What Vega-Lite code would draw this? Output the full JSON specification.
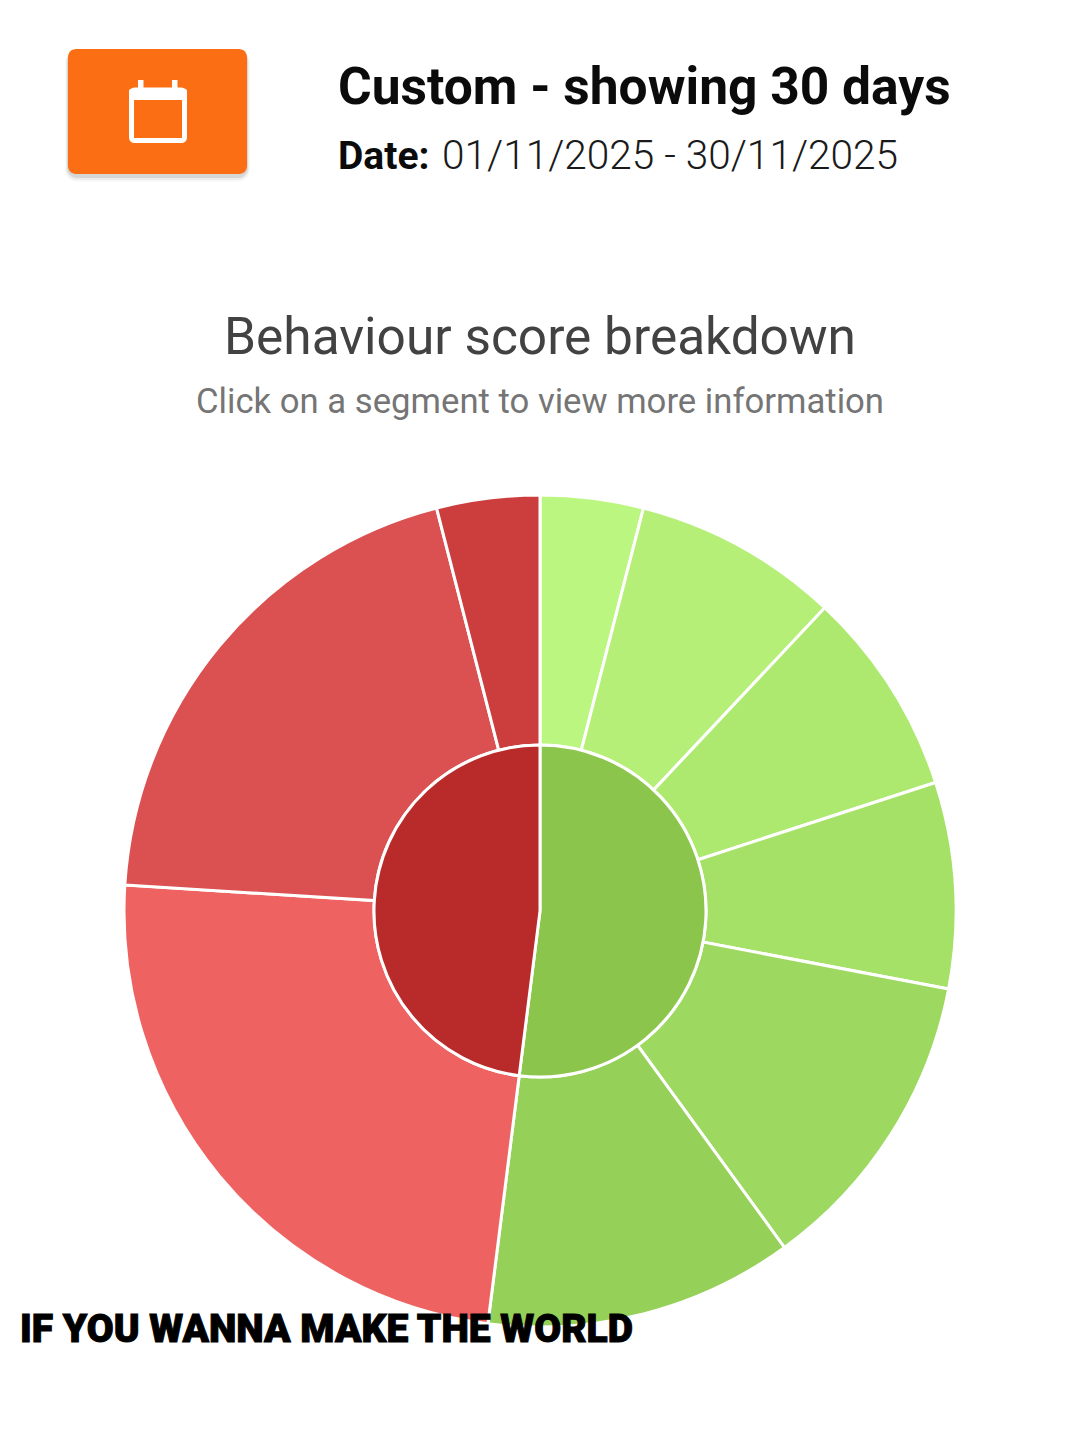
{
"$schema":"https://vega.github.io/schema/vega-lite/v6.json",
"width":830,"height":830,
"autosize":{"type":"none"},
"padding":{"left":125,"top":496,"right":125,"bottom":114},
"background":"#ffffff",
"config":{"view":{"stroke":null}},
"datasets":{"segments":[
{"ring":"inner","segment":"Positive","group":"Positive","count":26,"order":1},
{"ring":"inner","segment":"Negative","group":"Negative","count":24,"order":2},
{"ring":"outer","segment":"P1","group":"Positive","count":2,"order":1},
{"ring":"outer","segment":"P2","group":"Positive","count":4,"order":2},
{"ring":"outer","segment":"P3","group":"Positive","count":4,"order":3},
{"ring":"outer","segment":"P4","group":"Positive","count":4,"order":4},
{"ring":"outer","segment":"P5","group":"Positive","count":6,"order":5},
{"ring":"outer","segment":"P6","group":"Positive","count":6,"order":6},
{"ring":"outer","segment":"N1","group":"Negative","count":12,"order":7},
{"ring":"outer","segment":"N2","group":"Negative","count":10,"order":8},
{"ring":"outer","segment":"N3","group":"Negative","count":2,"order":9}
]},
"layer":[
{"data":{"values":[{"k":1}]},"mark":{"type":"rect","x":-60,"x2":125,"y":-445,"y2":-314,"cornerRadius":12,"color":"#000000","opacity":0.025},"encoding":{}},
{"data":{"values":[{"k":1}]},"mark":{"type":"rect","x":-59,"x2":124,"y":-445,"y2":-316,"cornerRadius":11,"color":"#000000","opacity":0.05},"encoding":{}},
{"data":{"values":[{"k":1}]},"mark":{"type":"rect","x":-58,"x2":123,"y":-445,"y2":-318,"cornerRadius":10,"color":"#000000","opacity":0.09},"encoding":{}},
{"data":{"values":[{"k":1}]},"mark":{"type":"rect","x":-57,"x2":122,"y":-447,"y2":-322,"cornerRadius":8,"color":"#FC6E13"},"encoding":{}},
{"data":{"values":[{"k":1}]},"mark":{"type":"rect","x":6.5,"x2":59.5,"y":-406,"y2":-355.5,"cornerRadius":3,"fill":null,"stroke":"#ffffff","strokeWidth":5},"encoding":{}},
{"data":{"values":[{"k":1}]},"mark":{"type":"rect","x":4,"x2":62,"y":-407,"y2":-396,"cornerRadius":2,"color":"#ffffff"},"encoding":{}},
{"data":{"values":[{"k":1}]},"mark":{"type":"rect","x":13,"x2":18.5,"y":-416,"y2":-405,"color":"#ffffff"},"encoding":{}},
{"data":{"values":[{"k":1}]},"mark":{"type":"rect","x":47,"x2":52.5,"y":-416,"y2":-405,"color":"#ffffff"},"encoding":{}},
{"data":{"values":[{"label":"Custom - showing 30 days"}]},"mark":{"type":"text","x":213,"y":-392,"align":"left","baseline":"alphabetic","font":"Roboto","fontWeight":700,"fontSize":51.5,"color":"#0b0b0b"},"encoding":{"text":{"field":"label"}}},
{"data":{"values":[{"label":"Date:"}]},"mark":{"type":"text","x":213,"y":-327,"align":"left","baseline":"alphabetic","font":"Roboto","fontWeight":700,"fontSize":39,"color":"#0b0b0b"},"encoding":{"text":{"field":"label"}}},
{"data":{"values":[{"label":"01/11/2025 - 30/11/2025"}]},"mark":{"type":"text","x":317,"y":-327,"align":"left","baseline":"alphabetic","font":"Roboto","fontWeight":300,"fontSize":40.6,"color":"#1a1a1a"},"encoding":{"text":{"field":"label"}}},
{"data":{"values":[{"label":"Behaviour score breakdown"}]},"mark":{"type":"text","x":415,"y":-142,"align":"center","baseline":"alphabetic","font":"Roboto","fontWeight":400,"fontSize":51.4,"color":"#424242"},"encoding":{"text":{"field":"label"}}},
{"data":{"values":[{"label":"Click on a segment to view more information"}]},"mark":{"type":"text","x":415,"y":-83,"align":"center","baseline":"alphabetic","font":"Roboto","fontWeight":400,"fontSize":34.7,"color":"#757575"},"encoding":{"text":{"field":"label"}}},
{"data":{"name":"segments"},"transform":[{"filter":"datum.ring==='outer'"}],"mark":{"type":"arc","outerRadius":416,"innerRadius":166,"stroke":"#ffffff","strokeWidth":3},
 "encoding":{"theta":{"field":"count","type":"quantitative","stack":true},"order":{"field":"order","type":"quantitative"},
 "color":{"field":"segment","type":"nominal","legend":null,"scale":{"domain":["P1","P2","P3","P4","P5","P6","N1","N2","N3","Positive","Negative"],"range":["#BBF680","#B5EF78","#AEE96F","#A6E167","#9DD860","#95D058","#EE6262","#DB5050","#CC3E3E","#8BC54C","#B92B2B"]}}}},
{"data":{"name":"segments"},"transform":[{"filter":"datum.ring==='inner'"}],"mark":{"type":"arc","outerRadius":166,"innerRadius":0,"stroke":"#ffffff","strokeWidth":3},
 "encoding":{"theta":{"field":"count","type":"quantitative","stack":true},"order":{"field":"order","type":"quantitative"},
 "color":{"field":"segment","type":"nominal","legend":null,"scale":{"domain":["P1","P2","P3","P4","P5","P6","N1","N2","N3","Positive","Negative"],"range":["#BBF680","#B5EF78","#AEE96F","#A6E167","#9DD860","#95D058","#EE6262","#DB5050","#CC3E3E","#8BC54C","#B92B2B"]}}}},
{"data":{"values":[{"label":"IF YOU WANNA MAKE THE WORLD"}]},"mark":{"type":"text","x":-105,"y":846,"align":"left","baseline":"alphabetic","font":"Roboto","fontWeight":900,"fontSize":39,"color":"#000000","stroke":"#000000","strokeWidth":1},"encoding":{"text":{"field":"label"}}}
]
}
